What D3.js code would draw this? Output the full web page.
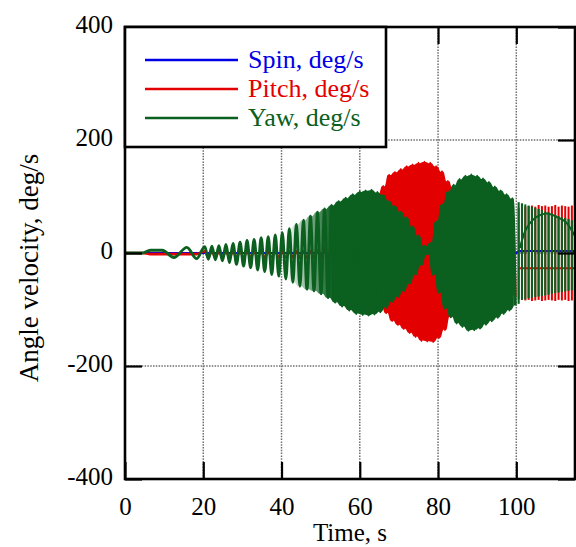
<!DOCTYPE html>
<html>
<head>
<meta charset="utf-8">
<script src="https://cdn.jsdelivr.net/npm/d3@7"></script>
<style>
  body { margin: 0; background: #fff; }
  text { font-family: "Liberation Serif", "Times New Roman", serif; }
</style>
</head>
<body>
<div id="canvas"></div>
<script>
// ---- data ----
var xTicks = [0, 20, 40, 60, 80, 100];
var yTicks = [-400, -200, 0, 200, 400];
var legendNames = ["Spin, deg/s", "Pitch, deg/s", "Yaw, deg/s"];

// slow start before the oscillation settles
var earlyTime = [0, 4.5, 6.5, 9.5, 12.5, 15.8, 18.3];
var yawEarly = [0, 0, 5, 5, -8, 10, -10];
var pitchEarly = [0, 0, -2, -2, -2, -2, -2];

// half-cycle sampling of the oscillation: [first, last, half period]
var cycleSegments = [[20.4, 60.0, 0.9], [60.75, 99.75, 0.75]];

// successive extremes (max, min, max ...) along cycleSegments
var yawPeaks = [
  11, -11, 12, -12, 13, -14, 15, -17, 17, -20,
  19, -23, 22, -26, 24, -30, 27, -33, 29, -38,
  32, -41, 36, -46, 43, -52, 51, -59, 58, -64,
  65, -67, 72, -72, 78, -79, 84, -87, 91, -94,
  97, -101, 103, -107, 108,
  -109, 110, -110, 111, -108, 107, -104, 102, -96, 91,
  -86, 82, -77, 72, -67, 62, -54, 46, -38, 30,
  -21, 12, -2, 17, -38, 55, -70, 85, -98, 108,
  -113, 120, -124, 130, -130, 136, -137, 138, -136, 136,
  -133, 131, -126, 125, -120, 117, -114, 110, -107, 103,
  -101, 96, -93
];
var pitchPeaks = [
  3, -8, 3, -8, 3, -8, 3, -8, 3, -8,
  3, -8, 3, -8, 3, -8, 3, -8, 3, -8,
  3, -8, 3, -8, 3, -8, 3, -9, 4, -9,
  4, -9, 5, -10, 9, -14, 16, -20, 23, -29,
  35, -38, 47, -52, 60,
  -60, 75, -70, 90, -82, 103, -93, 118, -106, 138,
  -120, 143, -127, 148, -134, 153, -141, 156, -148, 159,
  -155, 161, -156, 159, -157, 153, -150, 144, -136, 127,
  -113, 113, -102, 99, -88, 84, -78, 71, -64, 60,
  -59, 59, -58, 57, -56, 55, -56, 59, -62, 65,
  -70, 72, -77
];

// after 100 s the record shows separate spikes
var tailSegment = [100.6, 115.05, 0.85];
var yawTailHi = [90, 88, 86, 84, 82, 80, 78, 76, 73, 72, 70, 67, 65, 63, 62, 60, 58, 57];
var yawTailLo = [-90, -83, -82, -80, -79, -78, -77, -76, -75, -74, -72, -71, -70, -69, -68, -67, -66, -66];
var pitchTailHi = [80, 81, 82, 83, 84, 82, 85, 83, 84, 82, 83, 85, 82, 84, 83, 82, 84, 82];
var pitchTailLo = [-82, -83, -84, -83, -85, -84, -83, -85, -84, -83, -84, -85, -83, -84, -83, -85, -84, -83];

// slow levels between the spikes
var yawDriftTime = [100.9, 102.2, 103.5, 105.2, 107.8, 110.3, 112.9, 115];
var yawDrift = [9, 38, 53, 64, 70, 64, 53, 30];
var pitchDriftTime = [100.6, 115];
var pitchDrift = [-27, -27];
var spinTime = [0, 100, 100.6, 115];
var spinValues = [0, 0, 3.5, 3.5];

var ChartUtil = {
  colors: { spin: "#0000e6", pitch: "#e30000", yaw: "#0b6020" },

  sampleTimes: function(seg) {
    return d3.range(seg[0], seg[1] + 1e-6, seg[2]);
  },

  buildSeries: function(times, early, peaks) {
    var pts = times.map(function(t, i) { return [t, early[i]]; });
    var i = 0;
    cycleSegments.forEach(function(seg) {
      ChartUtil.sampleTimes(seg).forEach(function(t) {
        pts.push([t, peaks[i++]]);
      });
    });
    return pts;
  },

  // where the oscillation is too fast to resolve, fill between neighbouring extremes
  bandOf: function(series, from) {
    var out = [];
    for (var i = 0; i < series.length - 1; i++) {
      var a = series[i], b = series[i + 1];
      if (a[0] < from) continue;
      out.push({ t: (a[0] + b[0]) / 2, hi: Math.max(a[1], b[1]), lo: Math.min(a[1], b[1]) });
    }
    return out;
  },

  // horizontal fade so the solid band grows out of the resolved waves
  fade: function(defs, id, color, x0, x1) {
    var g = defs.append("linearGradient")
      .attr("id", id)
      .attr("gradientUnits", "userSpaceOnUse")
      .attr("x1", x0).attr("x2", x1)
      .attr("y1", 0).attr("y2", 0);
    g.append("stop").attr("offset", 0).attr("stop-color", color).attr("stop-opacity", 0);
    g.append("stop").attr("offset", 1).attr("stop-color", color).attr("stop-opacity", 1);
  },

  draw: function() {
    var width = 576, height = 547;
    var left = 125, right = 575, top = 27, bottom = 479;

    var svg = d3.select("#canvas").append("svg")
      .attr("width", width)
      .attr("height", height);

    var x = d3.scaleLinear().domain([0, 115]).range([left, right]);
    var y = d3.scaleLinear().domain([-400, 400]).range([bottom, top]);

    var defs = svg.append("defs");
    ChartUtil.fade(defs, "yawFade", ChartUtil.colors.yaw, x(41), x(53));
    ChartUtil.fade(defs, "pitchFade", ChartUtil.colors.pitch, x(52), x(60));

    // dotted grid
    var grid = svg.append("g")
      .attr("stroke", "#6e6e6e")
      .attr("stroke-width", 1.5)
      .attr("stroke-dasharray", "1.5,1.3");
    grid.selectAll(".gx").data(xTicks.slice(1)).enter().append("line")
      .attr("x1", function(d) { return x(d); })
      .attr("x2", function(d) { return x(d); })
      .attr("y1", top)
      .attr("y2", bottom);
    grid.selectAll(".gy").data(yTicks.slice(1, -1)).enter().append("line")
      .attr("y1", function(d) { return y(d); })
      .attr("y2", function(d) { return y(d); })
      .attr("x1", left)
      .attr("x2", right);

    defs.append("clipPath").attr("id", "plotClip")
      .append("rect")
      .attr("x", left).attr("y", top)
      .attr("width", right - left).attr("height", bottom - top);

    var plot = svg.append("g").attr("clip-path", "url(#plotClip)");

    var line = d3.line()
      .x(function(d) { return x(d[0]); })
      .y(function(d) { return y(d[1]); })
      .curve(d3.curveMonotoneX);
    var straight = d3.line()
      .x(function(d) { return x(d[0]); })
      .y(function(d) { return y(d[1]); });
    var band = d3.area()
      .x(function(d) { return x(d.t); })
      .y0(function(d) { return y(d.lo); })
      .y1(function(d) { return y(d.hi); })
      .curve(d3.curveMonotoneX);

    var tailTimes = ChartUtil.sampleTimes(tailSegment);
    var pitchSeries = ChartUtil.buildSeries(earlyTime, pitchEarly, pitchPeaks);
    var yawSeries = ChartUtil.buildSeries(earlyTime, yawEarly, yawPeaks);

    // spin
    plot.append("path")
      .datum(spinTime.map(function(t, i) { return [t, spinValues[i]]; }))
      .attr("d", straight)
      .attr("fill", "none")
      .attr("stroke", ChartUtil.colors.spin)
      .attr("stroke-width", 2.2);

    // pitch
    plot.append("path")
      .datum(pitchDriftTime.map(function(t, i) { return [t, pitchDrift[i]]; }))
      .attr("d", straight)
      .attr("fill", "none")
      .attr("stroke", ChartUtil.colors.pitch)
      .attr("stroke-width", 2.2);
    plot.append("path")
      .datum(ChartUtil.bandOf(pitchSeries, 52))
      .attr("d", band)
      .attr("fill", "url(#pitchFade)");
    plot.append("path")
      .datum(pitchSeries)
      .attr("d", line)
      .attr("fill", "none")
      .attr("stroke", ChartUtil.colors.pitch)
      .attr("stroke-width", 2.6);
    plot.selectAll(".pitch-spike").data(tailTimes).enter().append("line")
      .attr("x1", function(d) { return x(d); })
      .attr("x2", function(d) { return x(d); })
      .attr("y1", function(d, i) { return y(pitchTailHi[i]); })
      .attr("y2", function(d, i) { return y(pitchTailLo[i]); })
      .attr("stroke", ChartUtil.colors.pitch)
      .attr("stroke-width", 2);

    // yaw
    plot.append("path")
      .datum(ChartUtil.bandOf(yawSeries, 40))
      .attr("d", band)
      .attr("fill", "url(#yawFade)");
    plot.append("path")
      .datum(yawSeries)
      .attr("d", line)
      .attr("fill", "none")
      .attr("stroke", ChartUtil.colors.yaw)
      .attr("stroke-width", 2.9);
    plot.selectAll(".yaw-spike").data(tailTimes).enter().append("line")
      .attr("x1", function(d) { return x(d); })
      .attr("x2", function(d) { return x(d); })
      .attr("y1", function(d, i) { return y(yawTailHi[i]); })
      .attr("y2", function(d, i) { return y(yawTailLo[i]); })
      .attr("stroke", ChartUtil.colors.yaw)
      .attr("stroke-width", 2.1);
    plot.append("path")
      .datum(yawDriftTime.map(function(t, i) { return [t, yawDrift[i]]; }))
      .attr("d", line)
      .attr("fill", "none")
      .attr("stroke", ChartUtil.colors.yaw)
      .attr("stroke-width", 2);

    // inward ticks on all four sides
    var tickLen = 17;
    var plain = function(d) { return String(d); };
    var axisStyle = function(g) {
      g.select(".domain").remove();
      g.selectAll(".tick line").attr("stroke", "#000").attr("stroke-width", 2.2);
      g.selectAll("text").attr("fill", "#000").attr("font-size", 25)
        .attr("font-family", "Liberation Serif, Times New Roman, serif");
    };
    svg.append("g")
      .attr("transform", "translate(0," + bottom + ")")
      .call(d3.axisBottom(x).tickValues(xTicks).tickSize(-tickLen).tickPadding(18).tickFormat(plain))
      .call(axisStyle);
    svg.append("g")
      .attr("transform", "translate(0," + top + ")")
      .call(d3.axisTop(x).tickValues(xTicks).tickSize(-tickLen).tickFormat(""))
      .call(axisStyle);
    svg.append("g")
      .attr("transform", "translate(" + left + ",0)")
      .call(d3.axisLeft(y).tickValues(yTicks).tickSize(-tickLen).tickPadding(12).tickFormat(plain))
      .call(axisStyle)
      .selectAll("text").attr("dy", "0.22em");
    svg.append("g")
      .attr("transform", "translate(" + right + ",0)")
      .call(d3.axisRight(y).tickValues(yTicks).tickSize(-tickLen).tickFormat(""))
      .call(axisStyle);

    // frame
    svg.append("rect")
      .attr("x", left).attr("y", top)
      .attr("width", right - left).attr("height", bottom - top)
      .attr("fill", "none")
      .attr("stroke", "#000")
      .attr("stroke-width", 2.6);

    // legend
    var legendColors = [ChartUtil.colors.spin, ChartUtil.colors.pitch, ChartUtil.colors.yaw];
    var legend = svg.append("g");
    legend.append("rect")
      .attr("x", left).attr("y", top)
      .attr("width", 261).attr("height", 120)
      .attr("fill", "#fff")
      .attr("stroke", "#000")
      .attr("stroke-width", 2.6);
    var rows = legend.selectAll(".row").data(legendNames).enter().append("g")
      .attr("transform", function(d, i) { return "translate(0," + (60 + i * 29) + ")"; });
    rows.append("line")
      .attr("x1", 145).attr("x2", 238)
      .attr("stroke", function(d, i) { return legendColors[i]; })
      .attr("stroke-width", 2.5);
    rows.append("text")
      .attr("x", 248).attr("y", 8)
      .attr("font-size", 26)
      .attr("fill", function(d, i) { return legendColors[i]; })
      .text(function(d) { return d; });

    // axis titles
    svg.append("text")
      .attr("x", (left + right) / 2).attr("y", 541)
      .attr("text-anchor", "middle")
      .attr("font-size", 25)
      .text("Time, s");
    svg.append("text")
      .attr("transform", "translate(38,268) rotate(-90)")
      .attr("text-anchor", "middle")
      .attr("font-size", 27)
      .text("Angle velocity, deg/s");
  }
};
ChartUtil.draw();
</script>
</body>
</html>
